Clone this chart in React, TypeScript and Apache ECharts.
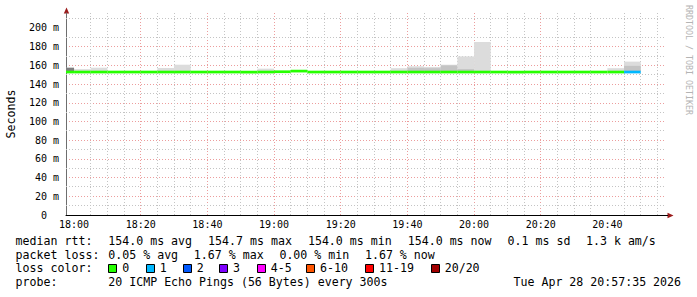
import React, { useEffect, useRef } from "react";
import * as echarts from "echarts";

// ---------- data ----------
const stepStarts = [
  "17:55", "18:00", "18:05", "18:10", "18:15", "18:20", "18:25", "18:30", "18:35", "18:40", "18:45", "18:50",
  "18:55", "19:00", "19:05", "19:10", "19:15", "19:20", "19:25", "19:30", "19:35", "19:40", "19:45", "19:50",
  "19:55", "20:00", "20:05", "20:10", "20:15", "20:20", "20:25", "20:30", "20:35", "20:40", "20:45",
];
const medianMs = [
  154.0, 154.0, 154.0, 154.0, 154.0, 154.0, 154.0, 154.0, 154.0, 154.0, 154.0, 154.0,
  154.0, 154.3, 155.0, 154.0, 154.0, 154.0, 154.0, 154.0, 154.0, 154.0, 154.0, 154.0,
  154.0, 154.0, 154.0, 154.0, 154.0, 154.0, 154.0, 154.0, 154.0, 154.0, 154.0,
];
const lossCount = [
  0, 0, 0, 0, 0, 0, 0, 0, 0, 0, 0, 0,
  0, 0, 0, 0, 0, 0, 0, 0, 0, 0, 0, 0,
  0, 0, 0, 0, 0, 0, 0, 0, 0, 0, 1,
];
// top of the lightest smoke band (ms)
const smokeOuter = [
  157.5, 156.0, 157.5, null, null, null, 157.2, 160.7, null, null, null, null,
  156.5, null, null, null, null, null, null, null, 157.0, 159.0, 158.3, 160.7,
  169.6, 185.0, null, null, null, null, null, null, null, 157.0, 164.0,
];
// top of the darker inner smoke band (ms)
const smokeInner = [
  null, null, null, null, null, null, null, null, null, null, null, null,
  null, null, null, null, null, null, null, null, null, 157.3, 157.0, 160.0,
  156.0, null, null, null, null, null, null, null, null, null, 159.5,
];
// top of the darkest core band (ms)
const smokeCore = [
  157.5, null, null, null, null, null, null, null, null, null, null, null,
  null, null, null, null, null, null, null, null, null, null, null, null,
  null, null, null, null, null, null, null, null, null, null, null,
];
const smokeBottom = 153.6;
const stepMinutes = 5;

const rangeStart = "17:57:35";
const rangeEnd = "20:57:35";
const majorTimes = ["18:00", "18:20", "18:40", "19:00", "19:20", "19:40", "20:00", "20:20", "20:40"];
const minorTimes = [
  "18:05", "18:10", "18:15", "18:25", "18:30", "18:35", "18:45", "18:50", "18:55",
  "19:05", "19:10", "19:15", "19:25", "19:30", "19:35", "19:45", "19:50", "19:55",
  "20:05", "20:10", "20:15", "20:25", "20:30", "20:35", "20:45", "20:50", "20:55",
];
const yMajor = [0, 20, 40, 60, 80, 100, 120, 140, 160, 180, 200];
const yMinor = [10, 30, 50, 70, 90, 110, 130, 150, 170, 190, 210];
const yMax = 216;

const lossLabels = ["0", "1", "2", "3", "4-5", "6-10", "11-19", "20/20"];
const lossColors = ["#26ff00", "#00b8ff", "#0059ff", "#7e00ff", "#ff00ff", "#ff5500", "#ff0000", "#a10000"];

const rttStats: [string, number][] = [
  ["median rtt:", 0], ["154.0 ms avg", 13], ["154.7 ms max", 27], ["154.0 ms min", 41],
  ["154.0 ms now", 55], ["0.1 ms sd", 69], ["1.3 k am/s", 80],
];
const lossStats: [string, number][] = [
  ["packet loss:", 0], ["0.05 % avg", 13], ["1.67 % max", 25], ["0.00 % min", 37], ["1.67 % now", 49],
];
const probeText = "20 ICMP Echo Pings (56 Bytes) every 300s";
const dateText = "Tue Apr 28 20:57:35 2026";

// ---------- helpers ----------
const FONT = "'DejaVu Sans Mono', monospace";
const toMin = (s: string) => {
  const p = s.split(":").map(Number);
  return p[0] * 60 + p[1] + (p[2] || 0) / 60 - 18 * 60;
};
const fmtTime = (v: number) => {
  const t = Math.round(18 * 60 + v);
  const h = Math.floor(t / 60);
  const m = t % 60;
  return `${h}:${m < 10 ? "0" : ""}${m}`;
};
const lossIndex = (n: number) => {
  if (n <= 3) return n;
  if (n <= 5) return 4;
  if (n <= 10) return 5;
  if (n <= 19) return 6;
  return 7;
};

function buildOption() {
  const xMin = toMin(rangeStart);
  const xMax = toMin(rangeEnd);
  const majorVals = majorTimes.map(toMin);

  const gridData: number[][] = [
    ...minorTimes.map((t) => [toMin(t), 0, 0]),
    ...yMinor.map((v) => [xMin, v, 1]),
  ];

  const smokeData: number[][] = [];
  const layers = [smokeOuter, smokeInner, smokeCore];
  layers.forEach((arr, li) => {
    arr.forEach((top, i) => {
      if (top == null) return;
      const s = toMin(stepStarts[i]);
      smokeData.push([s, s + stepMinutes, smokeBottom, top, li]);
    });
  });
  const smokeColors = ["#dcdcdc", "#c4c4c4", "#7f7f7f"];

  const medianData = medianMs.map((m, i) => {
    const s = toMin(stepStarts[i]);
    return [s, s + stepMinutes, m, lossIndex(lossCount[i])];
  });

  const majorLine = { color: "#ec9d9d", width: 1, type: [1, 2] };
  const minorColor = "#c4c4c4";

  const colX = (c: number) => 15.6 + c * 7.13;
  const lineY = [240.6, 254.6, 268.4, 282.2];
  const txt = (x: number, y: number, text: string, extra: any = {}) => ({
    type: "text",
    x,
    y,
    silent: true,
    style: { text, fill: "#000", font: `11.6px ${FONT}`, align: "left", verticalAlign: "middle", ...extra },
  });
  const graphic: any[] = [];
  rttStats.forEach(([t, c]) => graphic.push(txt(colX(c), lineY[0], t)));
  lossStats.forEach(([t, c]) => graphic.push(txt(colX(c), lineY[1], t)));
  graphic.push(txt(colX(0), lineY[2], "loss color:"));
  const boxX = [108.3, 145.7, 182.7, 219, 256.7, 306, 365, 430.7];
  lossLabels.forEach((l, i) => {
    graphic.push({
      type: "rect",
      silent: true,
      shape: { x: Math.round(boxX[i]) + 0.5, y: 264.5, width: 8, height: 8 },
      style: { fill: lossColors[i], stroke: "#000", lineWidth: 1 },
    });
    graphic.push(txt(boxX[i] + 14, lineY[2], l));
  });
  graphic.push(txt(colX(0), lineY[3], "probe:"));
  graphic.push(txt(colX(13), lineY[3], probeText));
  graphic.push(txt(513.5, lineY[3], dateText));
  graphic.push({
    type: "text", x: 10.5, y: 114, rotation: Math.PI / 2, silent: true,
    style: { text: "Seconds", fill: "#000", font: `11.6px ${FONT}`, align: "center", verticalAlign: "middle" },
  });
  graphic.push({
    type: "text", x: 689, y: 60, rotation: -Math.PI / 2, silent: true,
    style: { text: "RRDTOOL / TOBI OETIKER", fill: "#b4b4b4", font: `8.3px ${FONT}`, align: "center", verticalAlign: "middle" },
  });
  graphic.push({
    type: "polygon", silent: true,
    shape: { points: [[63.8, 13.5], [69.2, 13.5], [66.5, 7.5]] },
    style: { fill: "#9b1b1b" },
  });
  graphic.push({
    type: "polygon", silent: true,
    shape: { points: [[667.5, 212.8], [667.5, 218.2], [673.5, 215.5]] },
    style: { fill: "#9b1b1b" },
  });
  graphic.push({
    type: "line", silent: true,
    shape: { x1: 666, y1: 215.5, x2: 668, y2: 215.5 },
    style: { stroke: "#000", lineWidth: 1 },
  });

  return {
    animation: false,
    backgroundColor: "#ffffff",
    grid: { left: 66, right: 31, top: 13, bottom: 82, containLabel: false },
    xAxis: {
      type: "value", min: xMin, max: xMax, position: "bottom",
      axisLine: { show: true, onZero: false, lineStyle: { color: "#000", width: 1 } },
      axisTick: { show: false, customValues: majorVals },
      axisLabel: {
        customValues: majorVals, formatter: fmtTime, color: "#000",
        fontFamily: FONT, fontSize: 10, margin: 4,
      },
      splitLine: { show: true, lineStyle: majorLine, showMinLine: false, showMaxLine: false },
    },
    yAxis: {
      type: "value", min: 0, max: yMax, position: "left",
      axisLine: { show: true, onZero: false, lineStyle: { color: "#6e6e6e", width: 1 } },
      axisTick: { show: false, customValues: yMajor },
      axisLabel: {
        customValues: yMajor,
        formatter: (v: number) => (v === 0 ? "{z|0}" : `${v} m`),
        rich: { z: { padding: [0, 12, 0, 0], fontFamily: FONT, fontSize: 10, color: "#000" } },
        color: "#000", fontFamily: FONT, fontSize: 10, margin: 7,
      },
      splitLine: { show: true, lineStyle: majorLine, showMinLine: false, showMaxLine: false },
    },
    series: [
      {
        type: "custom", name: "minor grid", clip: false, silent: true, z: 1,
        encode: { x: 0, y: 1 },
        data: gridData,
        renderItem: (params: any, api: any) => {
          const cs = params.coordSys;
          const style = { stroke: minorColor, lineWidth: 1, lineDash: [1, 2], fill: null };
          if (api.value(2) === 0) {
            const x = Math.floor(api.coord([api.value(0), 0])[0]) + 0.5;
            return { type: "line", shape: { x1: x, y1: cs.y, x2: x, y2: cs.y + cs.height }, style };
          }
          const y = Math.floor(api.coord([xMin, api.value(1)])[1]) + 0.5;
          return { type: "line", shape: { x1: cs.x, y1: y, x2: cs.x + cs.width, y2: y }, style };
        },
      },
      {
        type: "custom", name: "smoke", clip: true, silent: true, z: 2,
        encode: { x: [0, 1], y: [2, 3] },
        data: smokeData,
        renderItem: (params: any, api: any) => {
          const p0 = api.coord([api.value(0), api.value(3)]);
          const p1 = api.coord([api.value(1), api.value(2)]);
          return {
            type: "rect",
            shape: { x: p0[0], y: p0[1], width: p1[0] - p0[0], height: p1[1] - p0[1] },
            style: { fill: smokeColors[api.value(4)] },
          };
        },
      },
      {
        type: "custom", name: "median rtt", clip: true, silent: true, z: 3,
        encode: { x: [0, 1], y: 2 },
        data: medianData,
        renderItem: (params: any, api: any) => {
          const p0 = api.coord([api.value(0), api.value(2)]);
          const p1 = api.coord([api.value(1), api.value(2)]);
          return {
            type: "rect",
            shape: { x: p0[0], y: p0[1] - 0.3, width: p1[0] - p0[0], height: 2.7 },
            style: { fill: lossColors[api.value(3)] },
          };
        },
      },
    ],
    graphic,
  };
}

export default function App() {
  const ref = useRef<HTMLDivElement>(null);
  useEffect(() => {
    const chart = echarts.init(ref.current!, null, { renderer: "svg", width: 697, height: 297 });
    chart.setOption(buildOption() as any);
    return () => chart.dispose();
  }, []);
  return <div ref={ref} style={{ position: "fixed", left: 0, top: 0, width: 697, height: 297 }} />;
}
